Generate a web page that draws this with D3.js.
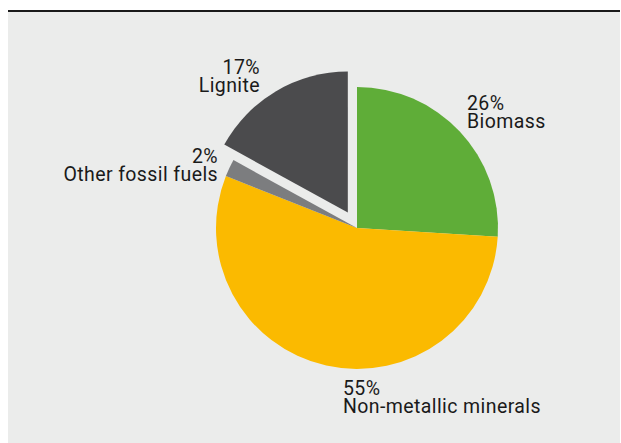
<!DOCTYPE html>
<html>
<head>
<meta charset="utf-8">
<script src="https://cdn.jsdelivr.net/npm/d3@7"></script>
<style>
  html, body { margin: 0; padding: 0; background: #ffffff; }
  svg { display: block; }
  text { font-family: Roboto, "Noto Sans", sans-serif; fill: #1a1a1a; }
</style>
</head>
<body>
<svg id="chart" width="621" height="443"></svg>
<script>
// Shares of material input by source, in percent
const categories = ["Biomass", "Non-metallic minerals", "Other fossil fuels", "Lignite"];
const shares = [26, 55, 2, 17];
const colors = ["#5fad38", "#fbba00", "#7c7d7f", "#4b4b4d"];
const exploded = ["Lignite"];

const svg = d3.select("#chart");
const W = 621, H = 443;

// panel background and top rule
svg.append("rect").attr("x", 8).attr("y", 12).attr("width", W - 9).attr("height", H - 12).attr("fill", "#ebeceb");
svg.append("rect").attr("x", 8).attr("y", 10).attr("width", W - 9).attr("height", 2).attr("fill", "#1a1a1a");

const cx = 357, cy = 228, radius = 141, pullOut = 18;

const data = categories.map((c, i) => ({ name: c, value: shares[i], color: colors[i] }));
const pie = d3.pie().value(d => d.value).sort(null).startAngle(0).endAngle(2 * Math.PI);
const arc = d3.arc().innerRadius(0).outerRadius(radius);
const arcs = pie(data);

const g = svg.append("g").attr("transform", `translate(${cx},${cy})`);

g.selectAll("path.slice")
  .data(arcs)
  .join("path")
  .attr("class", "slice")
  .attr("d", arc)
  .attr("fill", d => d.data.color)
  .attr("transform", d => {
    if (!exploded.includes(d.data.name)) return null;
    const mid = (d.startAngle + d.endAngle) / 2;
    return `translate(${pullOut * Math.sin(mid)},${-pullOut * Math.cos(mid)})`;
  });

// label placement: anchor point relative to the pie centre, and text alignment
const labelLayout = {
  "Biomass": { dx: 110, dy: -100, anchor: "start" },
  "Non-metallic minerals": { dx: -14, dy: 185, anchor: "start" },
  "Other fossil fuels": { dx: -139, dy: -47, anchor: "end" },
  "Lignite": { dx: -97, dy: -136, anchor: "end" }
};
const lineGap = 18;

const labels = g.selectAll("g.label")
  .data(arcs)
  .join("g")
  .attr("class", "label")
  .attr("transform", d => `translate(${labelLayout[d.data.name].dx},${labelLayout[d.data.name].dy})`);

labels.append("text")
  .attr("y", -lineGap)
  .attr("text-anchor", d => labelLayout[d.data.name].anchor)
  .style("font-size", "19.5px")
  .style("letter-spacing", "0.4px")
  .text(d => `${d.data.value}%`);

labels.append("text")
  .attr("y", 0)
  .attr("text-anchor", d => labelLayout[d.data.name].anchor)
  .style("font-size", "19.5px")
  .style("letter-spacing", "0.4px")
  .text(d => d.data.name);
</script>
</body>
</html>
